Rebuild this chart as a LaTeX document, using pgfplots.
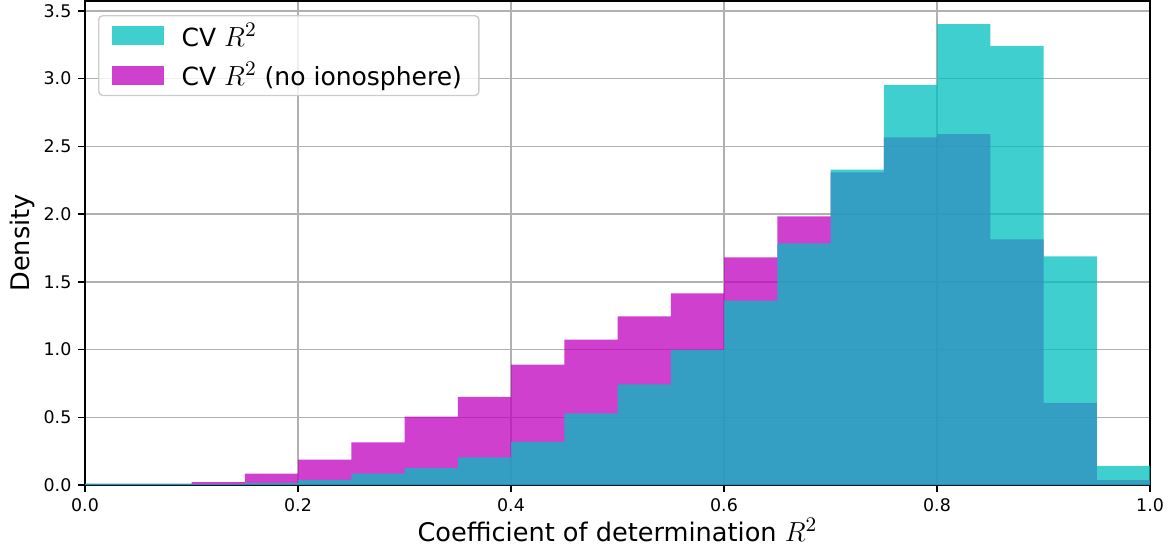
\documentclass[border=0pt]{standalone}
\usepackage{fontspec}
\setmainfont{DejaVu Sans}
\usepackage{graphicx}
\usepackage{pgfplots}
\pgfplotsset{compat=1.18}
\definecolor{mplc}{rgb}{0,0.75,0.75}
\definecolor{mplm}{rgb}{0.75,0,0.75}
\definecolor{gridgray}{HTML}{B0B0B0}
\definecolor{legedge}{HTML}{CCCCCC}
\newcommand{\Rsq}{\scalebox{1.15}{$R^2$}}
\pgfplotsset{swatch/.style={legend image code/.code={\fill[##1, draw=none, sharp corners, fill opacity=1] (0pt,-4.75pt) rectangle (26pt,4.75pt);}}}
\begin{document}
\begin{tikzpicture}
\useasboundingbox (-42.5pt,-34.5pt) rectangle (542.5pt,242.5pt);
\begin{axis}[
  at={(0,0)}, anchor=south west,
  scale only axis, width=532.5pt, height=242pt,
  xmin=0, xmax=1, ymin=0, ymax=3.573,
  xtick={0,0.2,0.4,0.6,0.8,1.0},
  ytick={0,0.5,1.0,1.5,2.0,2.5,3.0,3.5},
  /pgf/number format/.cd, fixed, fixed zerofill, precision=1, assume math mode=true,
  /pgfplots/.cd,
  grid=major, major grid style={gridgray, line width=0.7pt},
  axis line style={black, line width=0.7pt},
  tick style={black, line width=0.7pt},
  tick align=outside, major tick length=3.3pt, tick pos=left,
  ticklabel style={font=\fontsize{8.7}{10}\selectfont},
  label style={font=\fontsize{12.8}{15}\selectfont},
  xlabel={Coefficient of determination \Rsq},
  ylabel={Density},
  xlabel style={at={(axis description cs:0.5,-0.093)}, anchor=center},
  ylabel style={at={(axis description cs:-0.0592,0.5)}, anchor=center},
  legend cell align=left,
  legend style={at={(axis description cs:0.0122,0.971)}, anchor=north west,
    draw=legedge, rounded corners=2pt, fill=white, fill opacity=0.8, text opacity=1,
    line width=0.7pt, font=\fontsize{12.5}{15}\selectfont,
    inner xsep=6.5pt, inner ysep=1.5pt, row sep=2.5pt,
    /tikz/every odd column/.append style={column sep=7pt}},
]
\addlegendimage{swatch, fill=mplc!75!white}
\addlegendentry{CV \Rsq}
\addlegendimage{swatch, fill=mplm!75!white}
\addlegendentry{CV \Rsq\ (no ionosphere)}
\addplot[ybar interval, fill=mplm, fill opacity=0.75, draw=none, forget plot] coordinates {
(0.00,0.008) (0.05,0.008) (0.10,0.022) (0.15,0.084) (0.20,0.188)
(0.25,0.314) (0.30,0.504) (0.35,0.651) (0.40,0.889) (0.45,1.074)
(0.50,1.244) (0.55,1.414) (0.60,1.681) (0.65,1.984) (0.70,2.308)
(0.75,2.567) (0.80,2.590) (0.85,1.814) (0.90,0.606) (0.95,0.037) (1.00,0.037)};
\addplot[ybar interval, fill=mplc, fill opacity=0.75, draw=none, forget plot] coordinates {
(0.00,0.010) (0.05,0.010) (0.10,0.007) (0.15,0.014) (0.20,0.037)
(0.25,0.084) (0.30,0.125) (0.35,0.204) (0.40,0.319) (0.45,0.528)
(0.50,0.742) (0.55,0.998) (0.60,1.362) (0.65,1.783) (0.70,2.329)
(0.75,2.953) (0.80,3.403) (0.85,3.241) (0.90,1.688) (0.95,0.141) (1.00,0.141)};
\end{axis}
\end{tikzpicture}
\end{document}
